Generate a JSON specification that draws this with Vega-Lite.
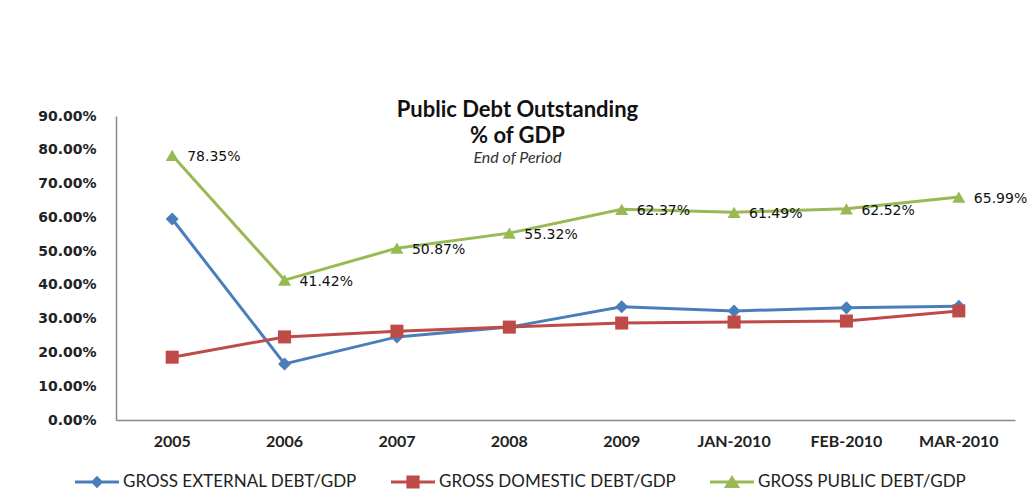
{
  "$schema": "https://vega.github.io/schema/vega-lite/v6.json",
  "width": 899,
  "height": 304,
  "autosize": {"type": "none"},
  "padding": {"top": 116, "left": 116, "right": 16, "bottom": 82},
  "background": "white",
  "config": {"view": {"stroke": null}},
  "title": {
    "text": ["Public Debt Outstanding", "% of GDP"],
    "subtitle": "End of Period",
    "anchor": "middle",
    "dx": -48,
    "offset": -58,
    "font": "Lato",
    "fontSize": 22,
    "fontWeight": "bold",
    "color": "#111",
    "lineHeight": 26,
    "subtitleFont": "Lato",
    "subtitleFontSize": 16,
    "subtitleFontStyle": "italic",
    "subtitleColor": "#333",
    "subtitlePadding": 2
  },
  "data": {
    "values": [
      {"period": "2005", "series": "GROSS EXTERNAL DEBT/GDP", "value": 0.595},
      {"period": "2006", "series": "GROSS EXTERNAL DEBT/GDP", "value": 0.166},
      {"period": "2007", "series": "GROSS EXTERNAL DEBT/GDP", "value": 0.246},
      {"period": "2008", "series": "GROSS EXTERNAL DEBT/GDP", "value": 0.275},
      {"period": "2009", "series": "GROSS EXTERNAL DEBT/GDP", "value": 0.335},
      {"period": "JAN-2010", "series": "GROSS EXTERNAL DEBT/GDP", "value": 0.323},
      {"period": "FEB-2010", "series": "GROSS EXTERNAL DEBT/GDP", "value": 0.332},
      {"period": "MAR-2010", "series": "GROSS EXTERNAL DEBT/GDP", "value": 0.337},
      {"period": "2005", "series": "GROSS DOMESTIC DEBT/GDP", "value": 0.186},
      {"period": "2006", "series": "GROSS DOMESTIC DEBT/GDP", "value": 0.246},
      {"period": "2007", "series": "GROSS DOMESTIC DEBT/GDP", "value": 0.263},
      {"period": "2008", "series": "GROSS DOMESTIC DEBT/GDP", "value": 0.275},
      {"period": "2009", "series": "GROSS DOMESTIC DEBT/GDP", "value": 0.287},
      {"period": "JAN-2010", "series": "GROSS DOMESTIC DEBT/GDP", "value": 0.290},
      {"period": "FEB-2010", "series": "GROSS DOMESTIC DEBT/GDP", "value": 0.293},
      {"period": "MAR-2010", "series": "GROSS DOMESTIC DEBT/GDP", "value": 0.323},
      {"period": "2005", "series": "GROSS PUBLIC DEBT/GDP", "value": 0.7835},
      {"period": "2006", "series": "GROSS PUBLIC DEBT/GDP", "value": 0.4142},
      {"period": "2007", "series": "GROSS PUBLIC DEBT/GDP", "value": 0.5087},
      {"period": "2008", "series": "GROSS PUBLIC DEBT/GDP", "value": 0.5532},
      {"period": "2009", "series": "GROSS PUBLIC DEBT/GDP", "value": 0.6237},
      {"period": "JAN-2010", "series": "GROSS PUBLIC DEBT/GDP", "value": 0.6149},
      {"period": "FEB-2010", "series": "GROSS PUBLIC DEBT/GDP", "value": 0.6252},
      {"period": "MAR-2010", "series": "GROSS PUBLIC DEBT/GDP", "value": 0.6599}
    ]
  },
  "encoding": {
    "x": {
      "field": "period",
      "type": "nominal",
      "sort": ["2005", "2006", "2007", "2008", "2009", "JAN-2010", "FEB-2010", "MAR-2010"],
      "scale": {"type": "band", "paddingInner": 0, "paddingOuter": 0},
      "axis": {
        "title": null,
        "labelAngle": 0,
        "labelFont": "Lato",
        "labelFontSize": 16,
        "labelFontWeight": "bold",
        "labelColor": "#222",
        "labelPadding": 13,
        "ticks": false,
        "domainColor": "#888",
        "domainWidth": 1.5,
        "grid": false
      }
    },
    "y": {
      "field": "value",
      "type": "quantitative",
      "scale": {"domain": [0, 0.9], "nice": false},
      "axis": {
        "title": null,
        "format": ".2%",
        "values": [0, 0.1, 0.2, 0.3, 0.4, 0.5, 0.6, 0.7, 0.8, 0.9],
        "labelFont": "DejaVu Sans",
        "labelFontSize": 14,
        "labelFontWeight": "bold",
        "labelColor": "#222",
        "labelPadding": 20,
        "ticks": false,
        "domainColor": "#888",
        "domainWidth": 1.5,
        "grid": false
      }
    },
    "color": {
      "field": "series",
      "type": "nominal",
      "scale": {
        "domain": ["GROSS EXTERNAL DEBT/GDP", "GROSS DOMESTIC DEBT/GDP", "GROSS PUBLIC DEBT/GDP"],
        "range": ["#4A7EBB", "#BE4B48", "#98B954"]
      },
      "legend": {
        "title": null,
        "orient": "none",
        "legendX": -41,
        "legendY": 344,
        "direction": "horizontal",
        "columns": 3,
        "columnPadding": 34,
        "labelFont": "Lato",
        "labelFontSize": 17,
        "labelColor": "#222",
        "labelOffset": 4,
        "labelLimit": 0,
        "symbolSize": 1936,
        "symbolStrokeWidth": 0,
        "symbolOpacity": 1
      }
    }
  },
  "layer": [
    {
      "mark": {"type": "line", "strokeWidth": 3}
    },
    {
      "mark": {"type": "point", "filled": true, "opacity": 0, "size": 170},
      "encoding": {
        "shape": {
          "field": "series",
          "type": "nominal",
          "scale": {
            "domain": ["GROSS EXTERNAL DEBT/GDP", "GROSS DOMESTIC DEBT/GDP", "GROSS PUBLIC DEBT/GDP"],
            "range": [
              "M-1,-0.07L1,-0.07L1,0.07L-1,0.07Z M0,-0.28L0.28,0L0,0.28L-0.28,0Z",
              "M-1,-0.07L1,-0.07L1,0.07L-1,0.07Z M-0.3,-0.3L0.3,-0.3L0.3,0.3L-0.3,0.3Z",
              "M-1,-0.07L1,-0.07L1,0.07L-1,0.07Z M0,-0.32L0.37,0.27L-0.37,0.27Z"
            ]
          },
          "legend": null
        }
      }
    },
    {
      "transform": [{"filter": "datum.series === 'GROSS EXTERNAL DEBT/GDP'"}],
      "mark": {"type": "point", "shape": "diamond", "filled": true, "opacity": 1, "size": 170}
    },
    {
      "transform": [{"filter": "datum.series === 'GROSS DOMESTIC DEBT/GDP'"}],
      "mark": {"type": "point", "shape": "square", "filled": true, "opacity": 1, "size": 170}
    },
    {
      "transform": [{"filter": "datum.series === 'GROSS PUBLIC DEBT/GDP'"}],
      "mark": {"type": "point", "shape": "triangle-up", "filled": true, "opacity": 1, "size": 170}
    },
    {
      "transform": [{"filter": "datum.series === 'GROSS PUBLIC DEBT/GDP'"}],
      "mark": {
        "type": "text",
        "align": "left",
        "baseline": "middle",
        "dx": 15,
        "dy": 2,
        "font": "DejaVu Sans",
        "fontSize": 14,
        "color": "#111"
      },
      "encoding": {
        "text": {"field": "value", "type": "quantitative", "format": ".2%"},
        "color": {"value": "#111"}
      }
    }
  ]
}
